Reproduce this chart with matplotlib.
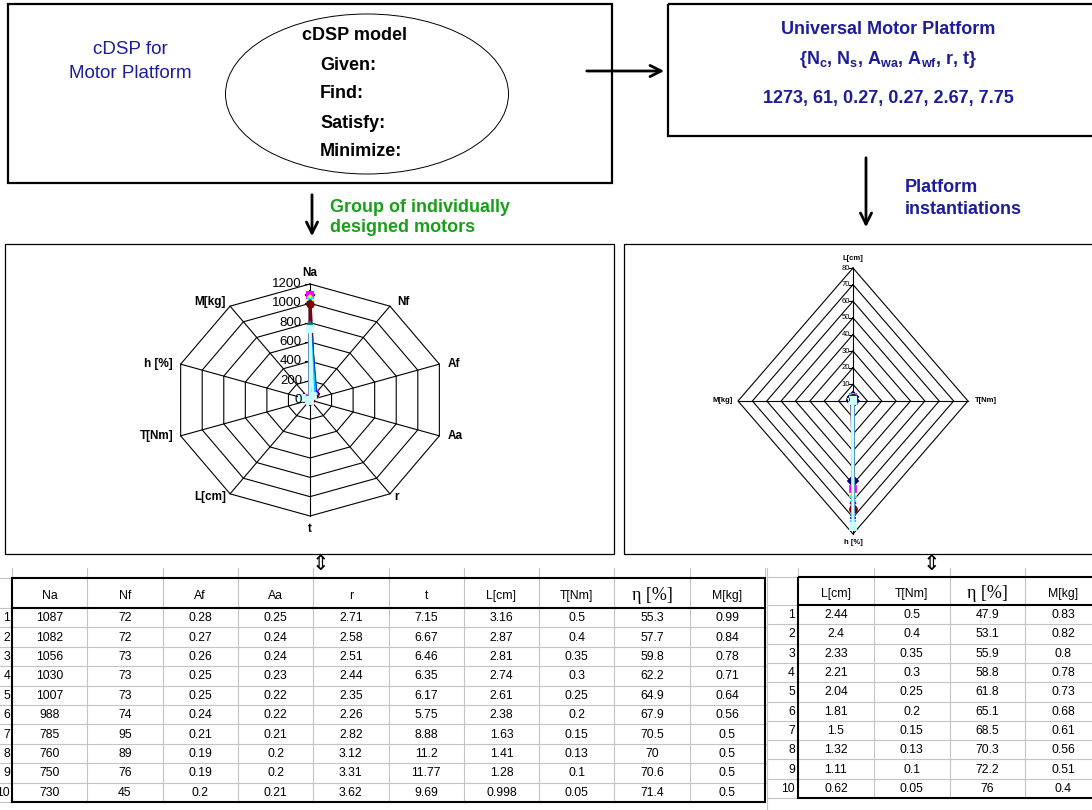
import numpy as np
import matplotlib
matplotlib.use('Agg')
import matplotlib.pyplot as plt
from matplotlib.patches import Rectangle, Ellipse

plt.rcParams['font.family'] = ['Liberation Sans', 'DejaVu Sans']
plt.rcParams['mathtext.fontset'] = 'custom'
plt.rcParams['mathtext.rm'] = 'Liberation Sans'
plt.rcParams['mathtext.bf'] = 'Liberation Sans:bold'
plt.rcParams['mathtext.default'] = 'bf'

# individually designed motors
cols_ind = ['Na', 'Nf', 'Af', 'Aa', 'r', 't', 'L[cm]', 'T[Nm]', 'η [%]', 'M[kg]']
Na = [1087, 1082, 1056, 1030, 1007, 988, 785, 760, 750, 730]
Nf = [72, 72, 73, 73, 73, 74, 95, 89, 76, 45]
Af = [0.28, 0.27, 0.26, 0.25, 0.25, 0.24, 0.21, 0.19, 0.19, 0.2]
Aa = [0.25, 0.24, 0.24, 0.23, 0.22, 0.22, 0.21, 0.2, 0.2, 0.21]
rr = [2.71, 2.58, 2.51, 2.44, 2.35, 2.26, 2.82, 3.12, 3.31, 3.62]
tt = [7.15, 6.67, 6.46, 6.35, 6.17, 5.75, 8.88, 11.2, 11.77, 9.69]
L_ind = [3.16, 2.87, 2.81, 2.74, 2.61, 2.38, 1.63, 1.41, 1.28, 0.998]
T_ind = [0.5, 0.4, 0.35, 0.3, 0.25, 0.2, 0.15, 0.13, 0.1, 0.05]
eta_ind = [55.3, 57.7, 59.8, 62.2, 64.9, 67.9, 70.5, 70, 70.6, 71.4]
M_ind = [0.99, 0.84, 0.78, 0.71, 0.64, 0.56, 0.5, 0.5, 0.5, 0.5]

# platform instantiations
cols_pf = ['L[cm]', 'T[Nm]', 'η [%]', 'M[kg]']
L_pf = [2.44, 2.4, 2.33, 2.21, 2.04, 1.81, 1.5, 1.32, 1.11, 0.62]
T_pf = [0.5, 0.4, 0.35, 0.3, 0.25, 0.2, 0.15, 0.13, 0.1, 0.05]
eta_pf = [47.9, 53.1, 55.9, 58.8, 61.8, 65.1, 68.5, 70.3, 72.2, 76]
M_pf = [0.83, 0.82, 0.8, 0.78, 0.73, 0.68, 0.61, 0.56, 0.51, 0.4]

platform_vals = [1273, 61, 0.27, 0.27, 2.67, 7.75]

radar_ind_labels = ['Na', 'Nf', 'Af', 'Aa', 'r', 't', 'L[cm]', 'T[Nm]', 'h [%]', 'M[kg]']
radar_pf_labels = ['L[cm]', 'T[Nm]', 'h [%]', 'M[kg]']

series_colors = ['#000080', '#FF00FF', '#FFFF00', '#00FFFF', '#800080',
                 '#800000', '#008080', '#0000FF', '#00CCFF', '#CCFFFF']
series_markers = ['D', 's', '^', 'x', '*', 'o', '+', '_', '_', 's']

BLUE = '#1c1c9c'
GREEN = '#18a018'
GRID = '#c4c4c4'

W, H = 1092, 810
fig = plt.figure(figsize=(W / 100, H / 100), dpi=100)
ax = fig.add_axes([0, 0, 1, 1])
ax.set_xlim(0, W)
ax.set_ylim(H, 0)
ax.axis('off')

# ---- top boxes ----
ax.add_patch(Rectangle((8, 4), 604, 179, fill=False, lw=1.6, ec='black'))
ax.add_patch(Ellipse((367, 94), 283, 160, fill=False, lw=0.7, ec='black'))
ax.text(130, 50, 'cDSP for', ha='center', va='center', color=BLUE, fontsize=13.5)
ax.text(130, 73, 'Motor Platform', ha='center', va='center', color=BLUE, fontsize=13.5)
ax.text(302, 36, 'cDSP model', ha='left', va='center', fontsize=13, fontweight='bold')
for y, s in zip([66, 94, 123, 151], ['Given:', 'Find:', 'Satisfy:', 'Minimize:']):
    ax.text(320, y, s, ha='left', va='center', fontsize=13, fontweight='bold')

ax.add_patch(Rectangle((668, 4), 440, 132, fill=False, lw=1.6, ec='black'))
ax.text(888, 30, 'Universal Motor Platform', ha='center', va='center',
        color=BLUE, fontsize=13, fontweight='bold')
ax.text(888, 60, r'{N$_c$, N$_s$, A$_{wa}$, A$_{wf}$, r, t}', ha='center', va='center',
        color=BLUE, fontsize=13, fontweight='bold')
ax.text(888, 99, ', '.join(f'{v:g}' for v in platform_vals), ha='center', va='center',
        color=BLUE, fontsize=13, fontweight='bold')

arrow = dict(arrowstyle='->', lw=2, color='black', mutation_scale=20)
ax.annotate('', xy=(667, 71), xytext=(584, 71), arrowprops=arrow)
ax.annotate('', xy=(312, 239), xytext=(312, 192), arrowprops=arrow)
ax.annotate('', xy=(866, 230), xytext=(866, 155), arrowprops=arrow)
ax.text(330, 208, 'Group of individually', ha='left', va='center', color=GREEN,
        fontsize=13, fontweight='bold')
ax.text(330, 228, 'designed motors', ha='left', va='center', color=GREEN,
        fontsize=13, fontweight='bold')
ax.text(905, 188, 'Platform', ha='left', va='center', color=BLUE,
        fontsize=13, fontweight='bold')
ax.text(905, 209, 'instantiations', ha='left', va='center', color=BLUE,
        fontsize=13, fontweight='bold')

# ---- chart frames ----
ax.add_patch(Rectangle((5, 244), 609, 310, fill=False, lw=0.9, ec='black'))
ax.add_patch(Rectangle((624, 244), 480, 310, fill=False, lw=0.9, ec='black'))
ax.text(320, 564, '⇕', ha='center', va='center', fontsize=15, family='DejaVu Sans')
ax.text(931, 564, '⇕', ha='center', va='center', fontsize=15, family='DejaVu Sans')


def radar_axes(cx, cy, rx, ry):
    rax = fig.add_axes([(cx - 1.5 * rx) / W, 1 - (cy + 1.5 * ry) / H, 3 * rx / W, 3 * ry / H])
    rax.set_xlim(-1.5, 1.5)
    rax.set_ylim(-1.5, 1.5)
    rax.axis('off')
    return rax


def draw_radar(rax, labels, offsets, nrings, step, series, tick_fs, lab_fs, tick_dx, ms):
    n = len(labels)
    ang = np.arange(n) * 2 * np.pi / n
    sx, sy = np.sin(ang), np.cos(ang)
    for k in range(1, nrings + 1):
        f = k / nrings
        rax.plot(np.append(sx, sx[0]) * f, np.append(sy, sy[0]) * f, color='black', lw=0.8)
    for i in range(n):
        rax.plot([0, sx[i]], [0, sy[i]], color='black', lw=0.8)
    for k in range(nrings + 1):
        f = k / nrings
        rax.plot([-0.035, 0.0], [f, f], color='black', lw=0.8)
        rax.annotate(f'{k * step:g}', xy=(0, f), xytext=(tick_dx, 0), textcoords='offset pixels',
                     ha='right', va='center', fontsize=tick_fs)
    for i, (lab, (dx, dy)) in enumerate(zip(labels, offsets)):
        ha = 'left' if sx[i] > 0.1 else ('right' if sx[i] < -0.1 else 'center')
        va = 'bottom' if (abs(sx[i]) < 0.1 and sy[i] > 0) else ('top' if abs(sx[i]) < 0.1 else 'center')
        rax.annotate(lab, xy=(sx[i], sy[i]), xytext=(dx, dy), textcoords='offset pixels',
                     ha=ha, va=va, fontsize=lab_fs, fontweight='bold')
    vmax = nrings * step
    for j, vals in enumerate(series):
        f = np.array(vals, dtype=float) / vmax
        xs, ys = np.append(sx * f, sx[0] * f[0]), np.append(sy * f, sy[0] * f[0])
        rax.plot(xs, ys, color=series_colors[j], lw=1.8, marker=series_markers[j],
                 ms=ms, mew=1.3, mfc=series_colors[j], mec=series_colors[j])


# left radar: individually designed motors
ind_series = list(zip(Na, Nf, Af, Aa, rr, tt, L_ind, T_ind, eta_ind, M_ind))
rl = radar_axes(310, 400, 136, 116)
draw_radar(rl, radar_ind_labels,
           [(0, 5), (7, 4), (8, 0), (8, 0), (4, -3), (0, -7), (-4, -3), (-7, 0), (-8, 0), (-4, 4)],
           6, 200, ind_series, 9.5, 8.5, -8, 4.5)

# right radar: platform instantiations
pf_series = list(zip(L_pf, T_pf, eta_pf, M_pf))
rp = radar_axes(853, 401, 115, 133)
draw_radar(rp, radar_pf_labels, [(0, 6), (7, 0), (0, -5), (-5, 0)],
           8, 10, pf_series, 5.5, 5.5, -3, 5)

# ---- tables ----


def draw_table(x0, colw, ncols, top, head_b, rowh, headers, rows, num_x, grid_x0, grid_x1, head_y):
    xs = [x0 + colw * i for i in range(ncols + 1)]
    nrow = len(rows)
    bottom = head_b + rowh * nrow
    # spreadsheet grid
    for x in xs[1:-1]:
        ax.plot([x, x], [568, bottom], color=GRID, lw=0.8, zorder=1)
    for x in (xs[0], xs[-1]):
        ax.plot([x, x], [568, top], color=GRID, lw=0.8, zorder=1)
    for i in range(1, nrow):
        y = head_b + rowh * i
        ax.plot([grid_x0, grid_x1], [y, y], color=GRID, lw=0.8, zorder=1)
    ax.plot([grid_x0, x0], [top, top], color=GRID, lw=0.8, zorder=1)
    ax.plot([grid_x0, x0], [head_b, head_b], color=GRID, lw=0.8, zorder=1)
    ax.plot([grid_x0, x0], [bottom, bottom], color=GRID, lw=0.8, zorder=1)
    # borders
    ax.add_patch(Rectangle((x0, top), xs[-1] - x0, bottom - top, fill=False, lw=1.5,
                           ec='black', zorder=3))
    ax.plot([x0, xs[-1]], [head_b, head_b], color='black', lw=1.5, zorder=3)
    for i, hd in enumerate(headers):
        cx = (xs[i] + xs[i + 1]) / 2
        if hd.startswith('η'):
            ax.text(cx, head_y - 1, hd, ha='center', va='center', fontsize=13,
                    family=['Liberation Serif', 'DejaVu Serif'])
        else:
            ax.text(cx, head_y, hd, ha='center', va='center', fontsize=8.8)
    for r, vals in enumerate(rows):
        cy = head_b + rowh * (r + 0.5) + 0.5
        ax.text(num_x, cy, str(r + 1), ha='right', va='center', fontsize=8.8, clip_on=True)
        for i, v in enumerate(vals):
            cx = (xs[i] + xs[i + 1]) / 2
            ax.text(cx, cy, f'{v:g}', ha='center', va='center', fontsize=8.8)


draw_table(12, 75.3, 10, 578, 608, 19.4, cols_ind, ind_series, 10, 0, 767, 596)
draw_table(798, 75.8, 4, 577, 605, 19.3, cols_pf, pf_series, 795, 767, W, 594)
ax.plot([767, 767], [568, 810], color=GRID, lw=0.8, zorder=1)

fig.savefig('out.png', dpi=100)
